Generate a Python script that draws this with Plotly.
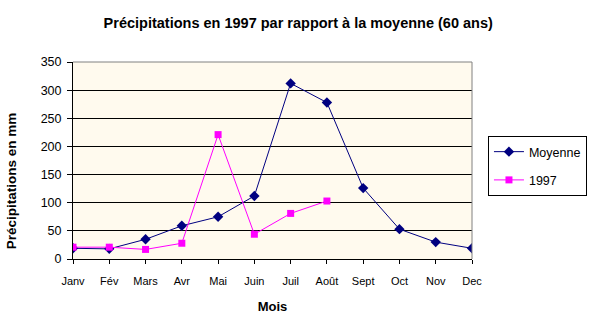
import plotly.graph_objects as go

mois = ["Janv", "Fév", "Mars", "Avr", "Mai", "Juin", "Juil", "Août", "Sept", "Oct", "Nov", "Dec"]
moyenne = [19, 18, 35, 59, 75, 112, 312, 278, 126, 53, 30, 19]
annee_1997 = [21, 21, 17, 28, 221, 44, 81, 103]
y_ticks = [0, 50, 100, 150, 200, 250, 300, 350]

font = "Liberation Sans, Arial, sans-serif"

fig = go.Figure()
fig.add_trace(go.Scatter(
    x=mois, y=moyenne, name="Moyenne", mode="lines+markers", legendgroup="a",
    line=dict(color="#000080", width=1),
    marker=dict(symbol="diamond", size=8, color="#000080"),
))
fig.add_trace(go.Scatter(
    x=mois[:len(annee_1997)], y=annee_1997, name="1997", mode="lines+markers", legendgroup="b",
    line=dict(color="#FF00FF", width=1),
    marker=dict(symbol="square", size=7, color="#FF00FF"),
))

fig.update_layout(
    width=600, height=330,
    margin=dict(l=73, r=128, t=62, b=71),
    paper_bgcolor="white", plot_bgcolor="#FFFAEE",
    font=dict(family=font, size=11, color="black"),
    title=dict(text="<b>Précipitations en 1997 par rapport à la moyenne (60 ans)</b>",
               x=0.497, xref="container", xanchor="center", y=0.930, yanchor="middle",
               font=dict(size=14.5, family=font)),
    showlegend=True,
    legend=dict(x=1.04, xanchor="left", y=0.472, yanchor="middle",
                bordercolor="black", borderwidth=1, bgcolor="white",
                font=dict(size=12.5, family=font), tracegroupgap=9),
    xaxis=dict(
        type="category", categoryorder="array", categoryarray=mois,
        range=[0, len(mois) - 1],
        showline=True, linecolor="black", linewidth=1, mirror=False,
        ticks="outside", ticklen=4, tickcolor="black", ticklabelstandoff=8,
        showgrid=False, zeroline=False,
        title=dict(text="<b>Mois</b>", font=dict(size=13, family=font), standoff=15),
    ),
    yaxis=dict(
        range=[0, 350], tickvals=y_ticks,
        showline=True, linecolor="black", linewidth=1,
        ticks="outside", ticklen=5, tickcolor="black", ticklabelstandoff=3,
        tickfont=dict(size=12.5, family=font),
        showgrid=True, gridcolor="black", gridwidth=1, zeroline=False,
    ),
    annotations=[
        dict(text="<b>Précipitations en mm</b>", textangle=-90,
             xref="paper", yref="paper", x=-0.155, y=0.395,
             xanchor="center", yanchor="middle", showarrow=False,
             font=dict(size=13.5, family=font)),
    ],
    shapes=[
        dict(type="line", xref="paper", yref="paper", x0=0, x1=1, y0=1, y1=1,
             line=dict(color="#808080", width=1)),
        dict(type="line", xref="paper", yref="paper", x0=1, x1=1, y0=0, y1=1,
             line=dict(color="#808080", width=1)),
    ],
)

fig.write_html("out.html")
